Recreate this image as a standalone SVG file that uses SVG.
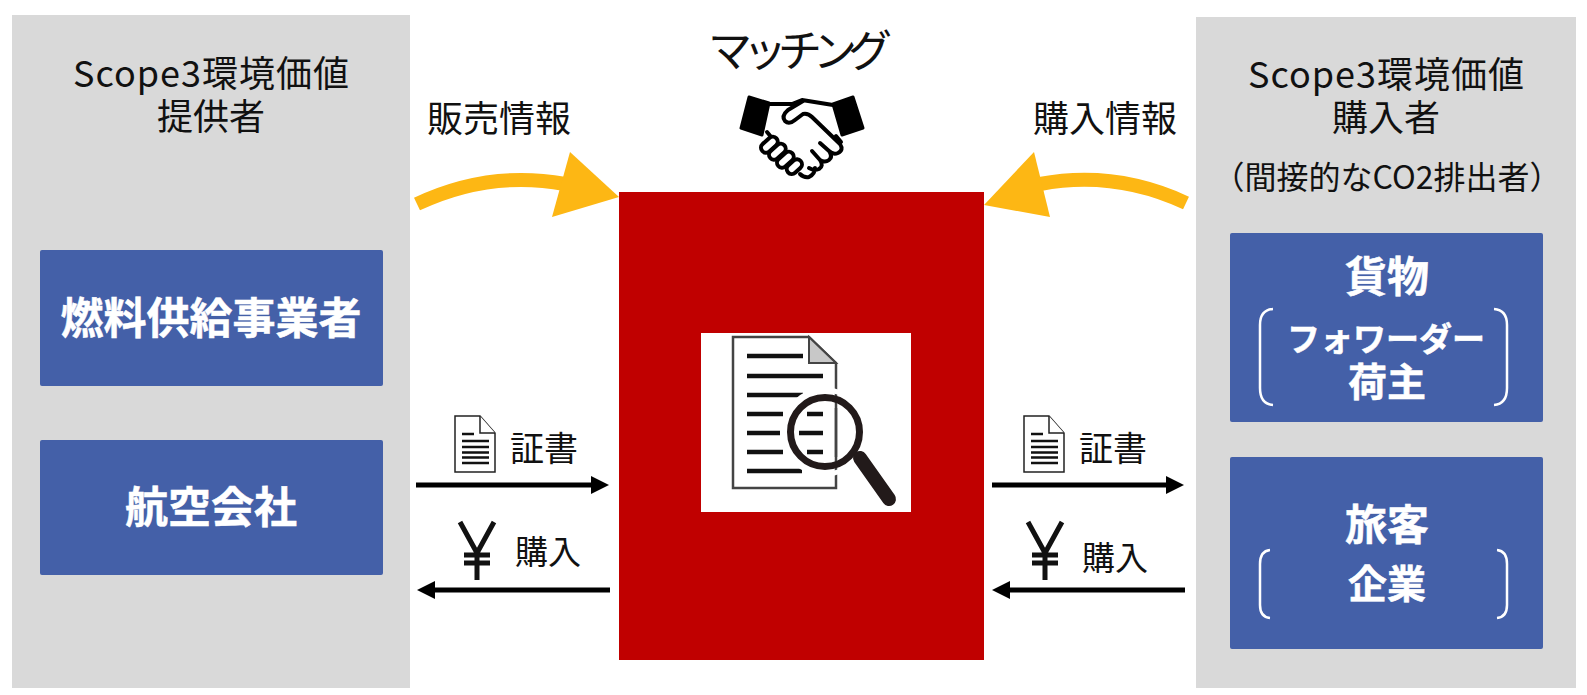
<svg xmlns="http://www.w3.org/2000/svg" width="1587" height="695" viewBox="0 0 1587 695">
<style>
text{font-family:"Noto Sans CJK JP","Noto Sans",sans-serif;text-anchor:middle;fill:#111}
.h{font-size:36px}
.s{font-size:32px}
.c{font-size:34px}
.p{font-size:33px}
.b{fill:#fff;font-weight:700;stroke:#fff;stroke-width:.5}
.panel{fill:#d9d9d9}
.box{fill:#4460a8}
.br{fill:none;stroke:#fff;stroke-width:2.5}
.ln{fill:none;stroke:#000;stroke-width:5}
.ya{fill:none;stroke:#fdb714;stroke-width:14}
.yh{fill:#fdb714}
.doc{fill:#fff;stroke:#222;stroke-width:1.5}
.dl{stroke:#111;stroke-width:2.6}
.yen{fill:none;stroke:#111;stroke-width:5}
.hs{fill:none;stroke:#000;stroke-width:4;stroke-linejoin:round;stroke-linecap:round}
.fg{fill:#fff;stroke:#000;stroke-width:4}
</style>
<defs>
<marker id="ah" markerUnits="userSpaceOnUse" markerWidth="19" markerHeight="18" refX="6" refY="9" orient="auto"><path d="M0 0L18 9L0 18z" fill="#000"/></marker>
<g id="smalldoc">
<path class="doc" d="M0 0H25L40 17V56H0z"/><path class="doc" d="M25 0V17H40" fill="none"/>
<path class="dl" d="M7 18H19M7 25H34M7 31H34M7 36.500H34M7 41.500H34M7 47H34"/>
</g>
<g id="yen"><path class="yen" d="M1 0L18 31L35 0M18 31V58M5 33H31M5 41H31"/></g>
</defs>
<g id="left-panel">
<rect class="panel" x="12" y="15" width="398" height="673"/>
<text class="h" x="211" y="87"><tspan textLength="276" lengthAdjust="spacing">Scope3環境価値</tspan><tspan x="211" dy="43">提供者</tspan></text>
</g>
<g id="right-panel">
<rect class="panel" x="1196" y="17" width="380" height="671"/>
<text class="h" x="1386" y="88"><tspan textLength="276" lengthAdjust="spacing">Scope3環境価値</tspan><tspan x="1386" dy="43">購入者</tspan></text>
<text class="s" x="1387" y="189">（間接的なCO2排出者）</text>
</g>
<g id="fuel"><rect class="box" x="40" y="250" width="343" height="136" rx="2"/><text class="b" x="211" y="334" font-size="43">燃料供給事業者</text></g>
<g id="airline"><rect class="box" x="40" y="440" width="343" height="135" rx="2"/><text class="b" x="211" y="523" font-size="43">航空会社</text></g>
<g id="cargo"><rect class="box" x="1230" y="233" width="313" height="189" rx="2"/>
<text class="b" x="1387" y="292" font-size="42">貨物</text>
<text class="b" x="1386" y="351" font-size="33">フォワーダー<tspan x="1387" dy="45" font-size="39">荷主</tspan></text>
<path class="br" d="M1273 309Q1260 310 1260 325V388Q1260 404 1273 405M1494 309Q1507 310 1507 325V388Q1507 404 1494 405"/></g>
<g id="passenger"><rect class="box" x="1230" y="457" width="313" height="192" rx="2"/>
<text class="b" x="1387" y="540" font-size="42">旅客</text>
<text class="b" x="1387" y="598" font-size="39">企業</text>
<path class="br" d="M1270 550Q1260 551 1260 564V605Q1260 617 1270 618M1497 550Q1507 551 1507 564V605Q1507 617 1497 618"/></g>
<g id="platform">
<rect x="619" y="192" width="365" height="468" fill="#c00000"/>
<rect x="701" y="333" width="210" height="179" fill="#fff"/>
<path d="M733 337H809L836 363V488H733z" fill="#fff" stroke="#444" stroke-width="2.500"/>
<path d="M809 337V363H836z" fill="#c8c8c8" stroke="#444" stroke-width="2"/>
<path stroke="#111" stroke-width="4.500" d="M747 356H803M747 376H823M747 395H803M747 414H783M747 433H780M747 452H783M747 471H802M807 414H823M799 433H823M807 452H823"/>
<circle cx="825" cy="432" r="42" fill="none" stroke="#fff" stroke-width="5"/>
<path d="M858 459L878 490" stroke="#fff" stroke-width="20"/>
<path d="M836 408V457" stroke="#444" stroke-width="2.500"/>
<circle cx="825" cy="432" r="34.500" fill="none" stroke="#221a1a" stroke-width="7"/>
<path d="M860 458L889 499" stroke="#221a1a" stroke-width="14" stroke-linecap="round"/>
</g>
<g id="matching">
<text x="795.500" y="67" font-size="44" letter-spacing="-9">マッチング</text>
<path d="M749 97L769 103L762 135L741 128z" fill="#000" stroke="#000" stroke-width="3" stroke-linejoin="round"/>
<path d="M853 97L833 104L842 135L863 128z" fill="#000" stroke="#000" stroke-width="3" stroke-linejoin="round"/>
<path class="hs" d="M769 104H792L802 100L833 105M767 132L772 138M836 136L841 142"/>
<path class="hs" d="M803 101L788 110Q781 116 785 121Q789 125 795 120L803 114Q808 113 812 117L840 144Q844 150 838 153Q833 155 829 151L820 143M829 151Q833 157 829 160Q825 163 820 160L812 151M820 160Q824 166 819 169Q814 171 809 168M815 168Q815 174 809 177Q804 178 800 174"/>
<g class="fg">
<rect x="760" y="140" width="19" height="10" rx="5" transform="rotate(-42 769 145)"/>
<rect x="768" y="147" width="19" height="10" rx="5" transform="rotate(-42 777 152)"/>
<rect x="776" y="155" width="19" height="10" rx="5" transform="rotate(-42 785 160)"/>
<rect x="786" y="162" width="17" height="10" rx="5" transform="rotate(-42 794 167)"/>
</g>
</g>
<text class="h" x="499" y="132">販売情報</text>
<text class="h" x="1105" y="132">購入情報</text>
<g id="connectors">
<path class="ya" d="M417 204Q489 170 565 184"/>
<path class="yh" d="M570 152L619 197L552 217z"/>
<path class="ya" d="M1186 203Q1115 170 1040 184"/>
<path class="yh" d="M1034 152L984 205L1050 217z"/>
<path class="ln" marker-end="url(#ah)" d="M416 485H597"/>
<path class="ln" marker-end="url(#ah)" d="M610 590H429"/>
<path class="ln" marker-end="url(#ah)" d="M992 485H1172"/>
<path class="ln" marker-end="url(#ah)" d="M1185 590H1004"/>
</g>
<g id="labels">
<use href="#smalldoc" x="455" y="416"/>
<text class="c" x="544" y="461">証書</text>
<use href="#yen" x="459" y="522"/>
<text class="p" x="548" y="564">購入</text>
<use href="#smalldoc" x="1024" y="416"/>
<text class="c" x="1113" y="461">証書</text>
<use href="#yen" x="1027" y="522"/>
<text class="p" x="1115" y="570">購入</text>
</g>
</svg>
